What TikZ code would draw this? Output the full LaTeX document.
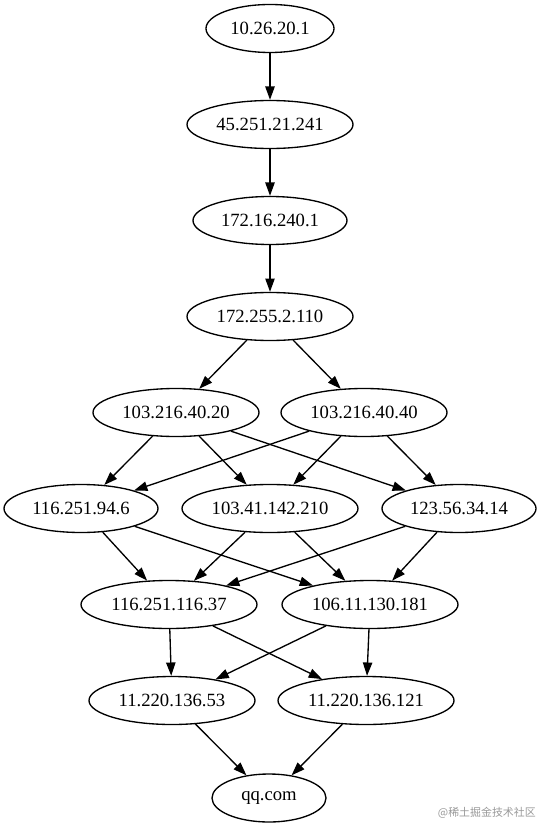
\documentclass[tikz,border=0pt]{standalone}
\usepackage{fontspec}
\setmainfont{Liberation Serif}
\newfontfamily\cjk{Noto Sans CJK SC}
\usetikzlibrary{shapes.geometric,arrows.meta}
\tikzset{
  hop/.style={draw=black, line width=1pt, ellipse, inner sep=0pt,
    minimum height=36pt, font=\fontsize{14pt}{16pt}\selectfont},
  w96/.style={minimum width=96pt},
  w115/.style={minimum width=115.5pt},
  w124/.style={minimum width=124.5pt},
  w132/.style={minimum width=132pt},
  w85/.style={minimum width=85.5pt},
  link/.style={draw=black, line width=1pt, -{Triangle[length=10pt,width=7pt]}}
}
\begin{document}
\begin{tikzpicture}[x=0.75pt,y=-0.75pt]
\useasboundingbox (0,0) rectangle (541,827);
\node[hop,w96]  (n1) at (270,28.5) {10.26.20.1};
\node[hop,w124] (n2) at (270,124.5) {45.251.21.241};
\node[hop,w115] (n3) at (270,220.5) {172.16.240.1};
\node[hop,w124] (n4) at (270,316.5) {172.255.2.110};
\node[hop,w124] (a1) at (176,412.5) {103.216.40.20};
\node[hop,w124] (a2) at (364,412.5) {103.216.40.40};
\node[hop,w115] (b1) at (81,508.5) {116.251.94.6};
\node[hop,w132] (b2) at (270,508.5) {103.41.142.210};
\node[hop,w115] (b3) at (459,508.5) {123.56.34.14};
\node[hop,w132] (c1) at (169,604.5) {116.251.116.37};
\node[hop,w132] (c2) at (370,604.5) {106.11.130.181};
\node[hop,w124] (d1) at (172,700.5) {11.220.136.53};
\node[hop,w132] (d2) at (366,700.5) {11.220.136.121};
\node[hop,w85]  (e1) at (269,798) {qq.com};
\node[font=\cjk\fontsize{8.2pt}{10pt}\selectfont, text=black!40, inner sep=0pt, anchor=east] (wm) at (536,813) {@稀土掘金技术社区};
\draw[link] (n1) -- (n2);
\draw[link] (n2) -- (n3);
\draw[link] (n3) -- (n4);
\draw[link] (n4) -- (a1);
\draw[link] (n4) -- (a2);
\draw[link] (a1) -- (b1);
\draw[link] (a1) -- (b2);
\draw[link] (a1) -- (b3);
\draw[link] (a2) -- (b1);
\draw[link] (a2) -- (b2);
\draw[link] (a2) -- (b3);
\draw[link] (b1) -- (c1);
\draw[link] (b1) -- (c2);
\draw[link] (b2) -- (c1);
\draw[link] (b2) -- (c2);
\draw[link] (b3) -- (c1);
\draw[link] (b3) -- (c2);
\draw[link] (c1) -- (d1);
\draw[link] (c1) -- (d2);
\draw[link] (c2) -- (d1);
\draw[link] (c2) -- (d2);
\draw[link] (d1) -- (e1);
\draw[link] (d2) -- (e1);
\end{tikzpicture}
\end{document}
